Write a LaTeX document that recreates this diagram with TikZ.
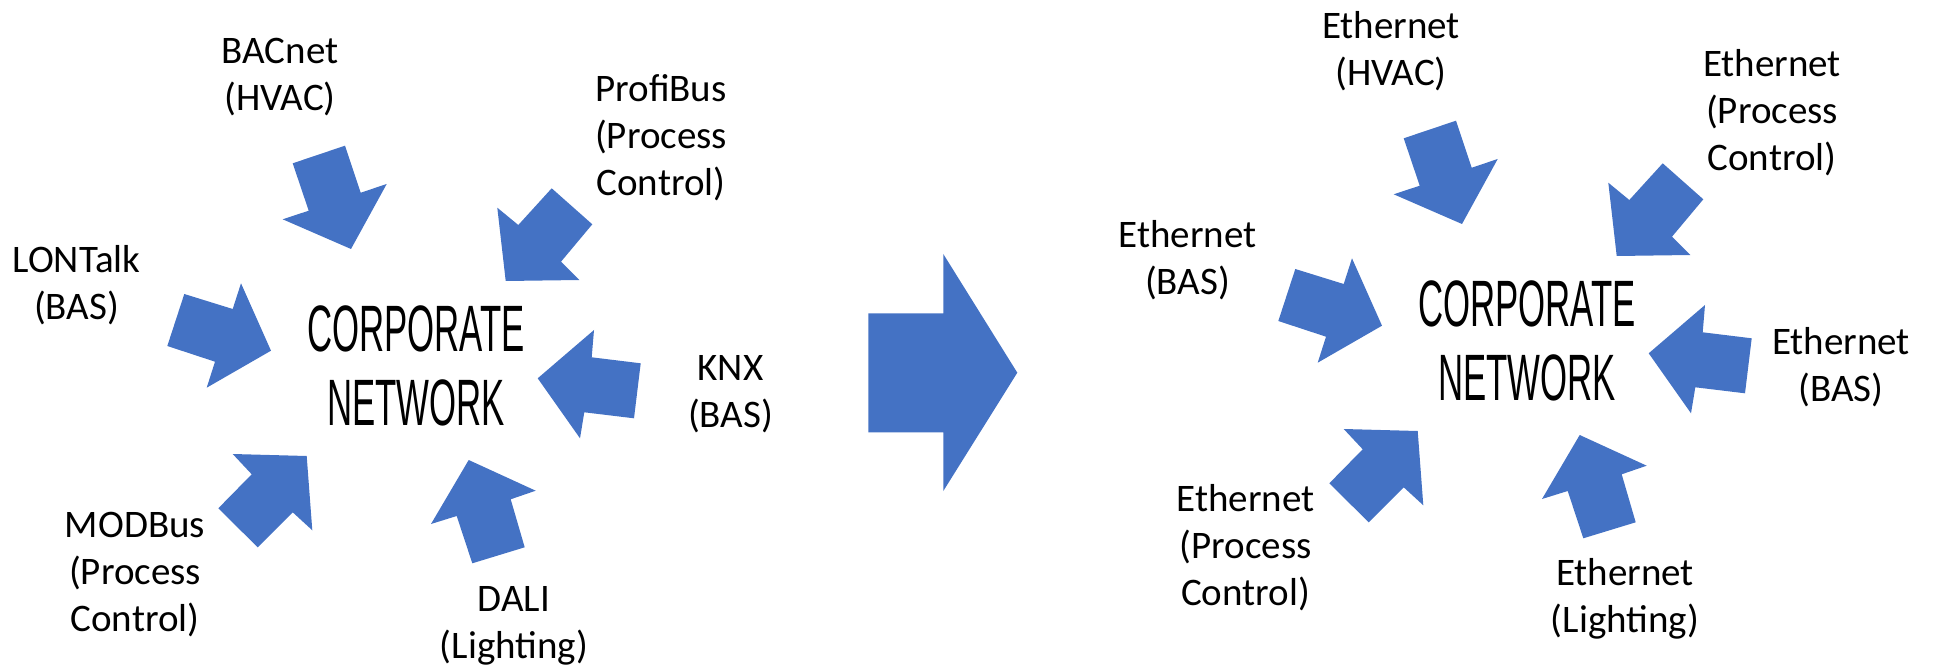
\documentclass[tikz,border=0pt]{standalone}
\usepackage{fontspec}
\setmainfont{Carlito}
\newfontfamily\agencyfont[FakeStretch=0.53]{Liberation Sans}
\definecolor{arrowblue}{HTML}{4472C4}
\tikzset{
  arrowfill/.style={fill=arrowblue, draw=none},
  lbl/.style={anchor=base, inner sep=0pt, text width=260pt, align=center,
    font=\fontsize{39}{47}\selectfont},
  corp/.style={anchor=base, inner sep=0pt, text width=300pt, align=center,
    font=\agencyfont\fontsize{65.6}{73.3}\selectfont},
  arrowset/.pic={
    \fill[arrowfill] (292.7,163.3) -- (345,145.7) -- (360.7,192.7) -- (386.7,184) -- (351,249) -- (282.7,219.3) -- (308.7,210.7) -- cycle;
    \fill[arrowfill] (497.3,207.7) -- (518.3,225) -- (551.7,188.3) -- (592.3,224.3) -- (561,261.7) -- (579.3,280) -- (505.7,281) -- cycle;
    \fill[arrowfill] (184.3,294) -- (232.7,309) -- (241,283.3) -- (271,350.7) -- (206.7,387.7) -- (215,361.7) -- (167.3,346) -- cycle;
    \fill[arrowfill] (594,330) -- (591.7,357.3) -- (640.7,363.3) -- (634,418.3) -- (584.3,412.3) -- (580,438.3) -- (537.7,378.3) -- cycle;
    \fill[arrowfill] (232.7,454) -- (306.7,456) -- (312.3,530.3) -- (292.7,512.3) -- (257.7,547.3) -- (218.3,508.3) -- (251.7,474.3) -- cycle;
    \fill[arrowfill] (468.7,460) -- (535.7,490.7) -- (510.7,499.3) -- (524.7,547.3) -- (472.3,563.3) -- (456.7,516) -- (431,524) -- cycle;
  }
}
\begin{document}
\begin{tikzpicture}[x=1pt, y=-1pt]
\useasboundingbox (0,0) rectangle (1933,668);
% arrow groups
\pic (leftset) at (0,0) {arrowset};
\pic (rightset) at (1111,-25) {arrowset};
% big arrow
\fill[arrowfill] (868.3,313.3) -- (943.3,313.3) -- (943.3,254) -- (1017.3,372.7) -- (943.3,491) -- (943.3,432.3) -- (868.3,432.3) -- cycle;
% centre texts
\node[corp] (corpL) at (416,351.7) {CORPORATE\\NETWORK};
\node[corp] (corpR) at (1527,326.7) {CORPORATE\\NETWORK};
% left labels
\node[lbl] (bacnet) at (280,64) {BACnet\\(HVAC)};
\node[lbl] (profibus) at (661,101.4) {ProfiBus\\(Process\\Control)};
\node[lbl] (lontalk) at (76.5,272.7) {LONTalk\\(BAS)};
\node[lbl] (knx) at (730.5,380.5) {KNX\\(BAS)};
\node[lbl] (modbus) at (135,537) {MODBus\\(Process\\Control)};
\node[lbl] (dali) at (514,611.4) {DALI\\(Lighting)};
% right labels
\node[lbl] (ethhvac) at (1391,38.3) {Ethernet\\(HVAC)};
\node[lbl] (ethproctop) at (1772,76.7) {Ethernet\\(Process\\Control)};
\node[lbl] (ethbasleft) at (1187.5,248) {Ethernet\\(BAS)};
\node[lbl] (ethbasright) at (1841,354.5) {Ethernet\\(BAS)};
\node[lbl] (ethprocbot) at (1245.6,511.3) {Ethernet\\(Process\\Control)};
\node[lbl] (ethlight) at (1625,585.9) {Ethernet\\(Lighting)};
\end{tikzpicture}
\end{document}
